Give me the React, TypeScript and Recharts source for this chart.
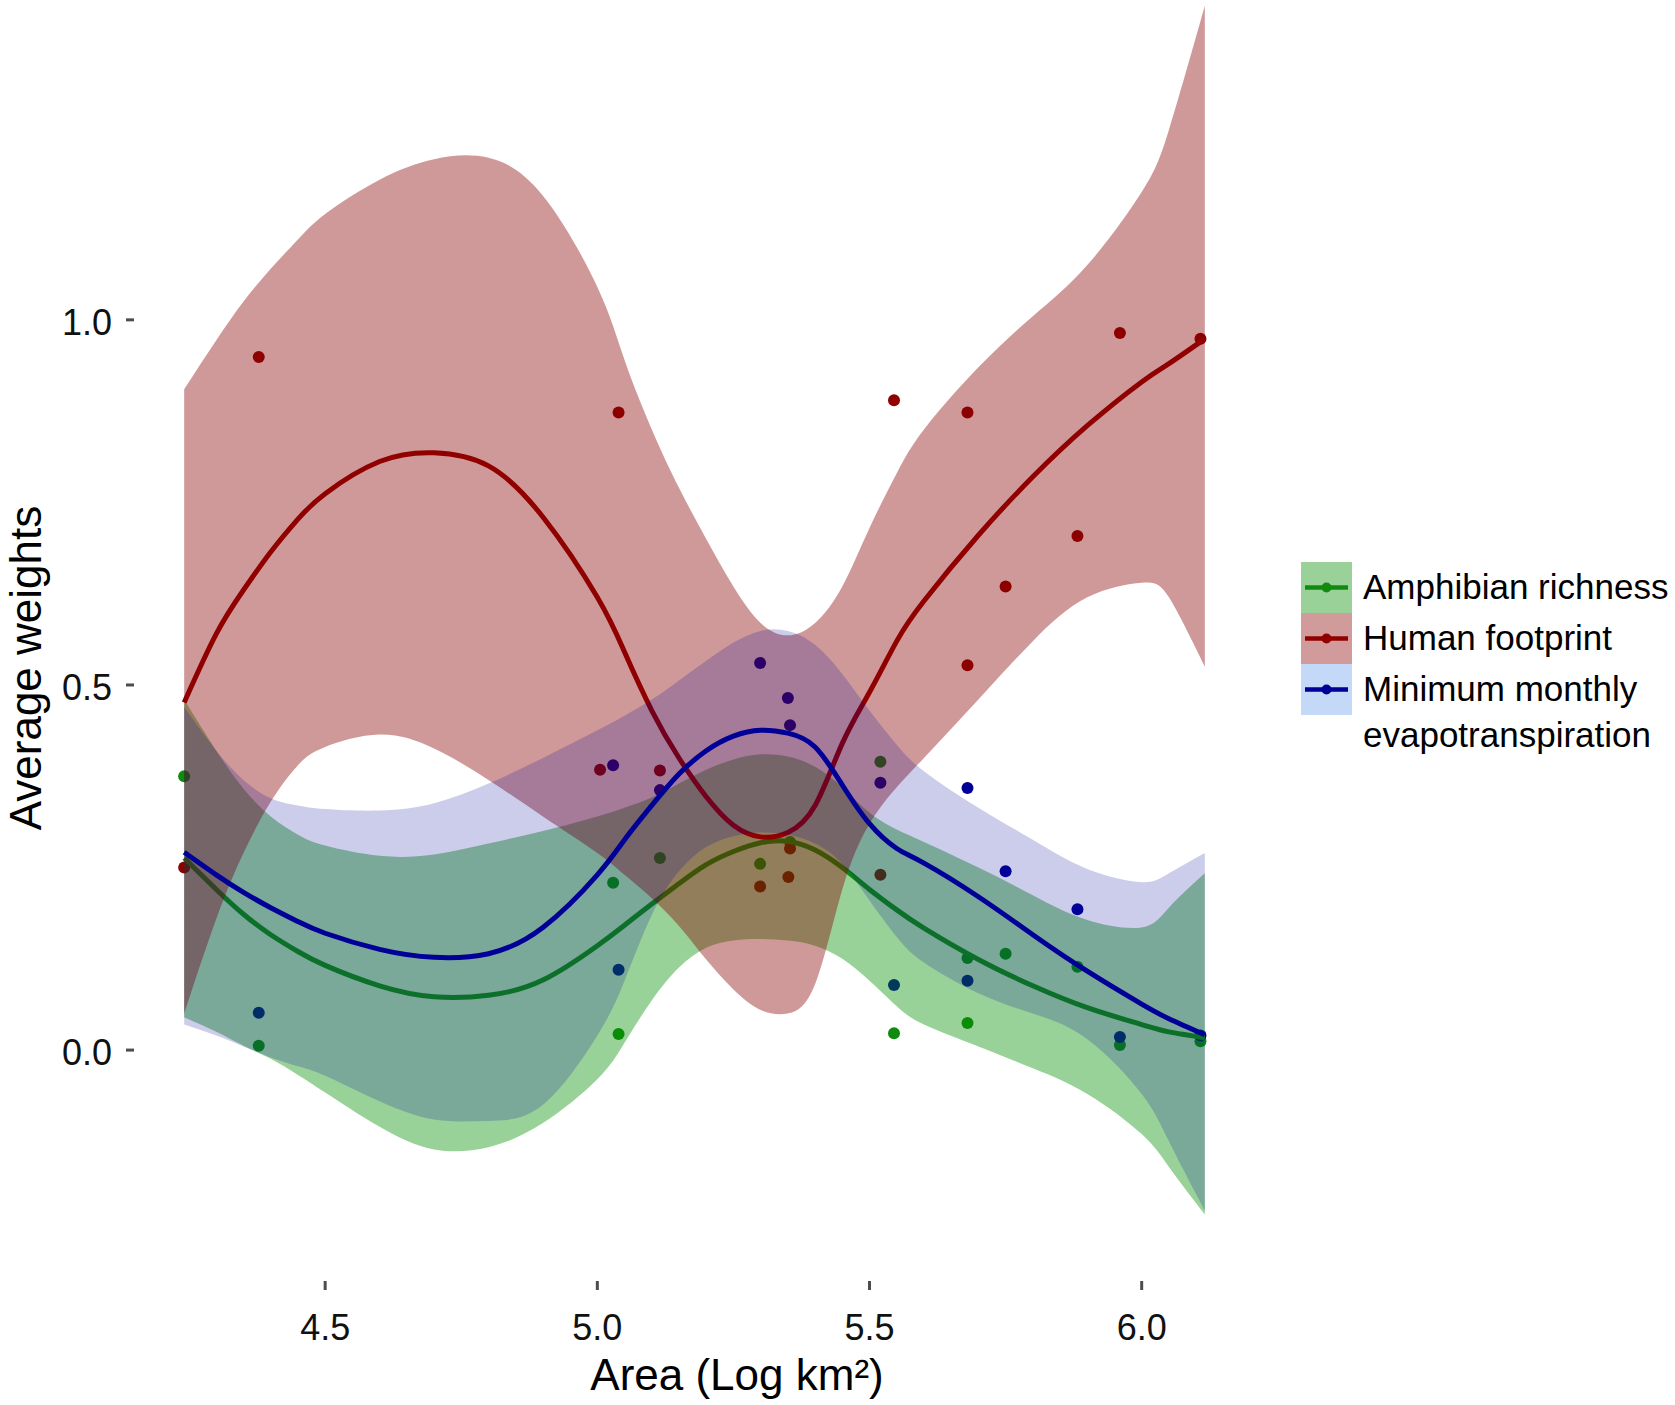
import React from 'react';
import { ComposedChart, Area, Line, Scatter, XAxis, YAxis } from 'recharts';

// ---------- data ----------
const GRID_X = [4.241, 4.3, 4.35, 4.4, 4.45, 4.5, 4.6, 4.7, 4.8, 4.9, 5.0, 5.05, 5.1, 5.15, 5.2, 5.25, 5.3, 5.35, 5.4, 5.45, 5.5, 5.55, 5.6, 5.7, 5.8, 5.9, 6.0, 6.05, 6.116];

// Amphibian richness (green)
const amphFit = [0.263, 0.22, 0.186, 0.158, 0.135, 0.116, 0.088, 0.073, 0.075, 0.096, 0.143, 0.171, 0.2, 0.228, 0.254, 0.272, 0.284, 0.286, 0.274, 0.25, 0.22, 0.192, 0.167, 0.124, 0.088, 0.058, 0.035, 0.025, 0.017];
const amphLow = [0.045, 0.025, 0.006, -0.012, -0.034, -0.058, -0.105, -0.136, -0.133, -0.1, -0.04, 0.01, 0.068, 0.113, 0.14, 0.15, 0.152, 0.15, 0.143, 0.125, 0.095, 0.06, 0.035, 0.005, -0.025, -0.06, -0.115, -0.16, -0.225];
const amphHigh = [0.48, 0.41, 0.358, 0.32, 0.295, 0.28, 0.266, 0.268, 0.283, 0.3, 0.32, 0.332, 0.346, 0.365, 0.384, 0.398, 0.405, 0.402, 0.388, 0.36, 0.325, 0.302, 0.285, 0.25, 0.212, 0.178, 0.168, 0.195, 0.242];

// Human footprint (red)
const humanFit = [0.476, 0.57, 0.63, 0.682, 0.727, 0.762, 0.806, 0.818, 0.8, 0.73, 0.62, 0.545, 0.465, 0.4, 0.347, 0.308, 0.292, 0.298, 0.335, 0.42, 0.49, 0.56, 0.615, 0.705, 0.785, 0.855, 0.915, 0.94, 0.974];
const humanLow = [0.05, 0.18, 0.27, 0.34, 0.39, 0.415, 0.432, 0.413, 0.37, 0.32, 0.27, 0.24, 0.208, 0.17, 0.124, 0.083, 0.055, 0.05, 0.09, 0.22, 0.31, 0.36, 0.4, 0.48, 0.56, 0.62, 0.64, 0.62, 0.525];
const humanHigh = [0.905, 0.972, 1.025, 1.07, 1.11, 1.145, 1.192, 1.22, 1.222, 1.17, 1.045, 0.945, 0.85, 0.77, 0.7, 0.635, 0.585, 0.568, 0.585, 0.635, 0.715, 0.79, 0.85, 0.935, 1.005, 1.075, 1.175, 1.26, 1.43];

// Minimum monthly evapotranspiration (blue)
const evapFit = [0.271, 0.24, 0.216, 0.195, 0.176, 0.16, 0.138, 0.127, 0.132, 0.168, 0.24, 0.288, 0.335, 0.378, 0.41, 0.43, 0.438, 0.434, 0.415, 0.363, 0.31, 0.276, 0.256, 0.21, 0.158, 0.108, 0.063, 0.043, 0.021];
const evapLow = [0.035, 0.02, 0.005, -0.01, -0.022, -0.035, -0.07, -0.095, -0.097, -0.075, 0.02, 0.095, 0.185, 0.245, 0.278, 0.293, 0.298, 0.295, 0.283, 0.255, 0.205, 0.155, 0.12, 0.078, 0.05, 0.015, -0.06, -0.125, -0.22];
const evapHigh = [0.47, 0.41, 0.37, 0.345, 0.335, 0.33, 0.328, 0.338, 0.365, 0.4, 0.438, 0.458, 0.48, 0.506, 0.533, 0.558, 0.574, 0.574, 0.555, 0.515, 0.465, 0.418, 0.382, 0.332, 0.288, 0.248, 0.23, 0.242, 0.27];

// observed points
const amphPoints = [
  { x: 4.241, y: 0.375 }, { x: 4.378, y: 0.006 }, { x: 5.029, y: 0.229 }, { x: 5.039, y: 0.022 },
  { x: 5.115, y: 0.263 }, { x: 5.299, y: 0.255 }, { x: 5.354, y: 0.285 }, { x: 5.52, y: 0.395 },
  { x: 5.545, y: 0.023 }, { x: 5.68, y: 0.126 }, { x: 5.68, y: 0.037 }, { x: 5.75, y: 0.132 },
  { x: 5.882, y: 0.114 }, { x: 5.96, y: 0.007 }, { x: 6.108, y: 0.012 },
];
const humanPoints = [
  { x: 4.241, y: 0.25 }, { x: 4.378, y: 0.949 }, { x: 5.005, y: 0.384 }, { x: 5.039, y: 0.873 },
  { x: 5.115, y: 0.383 }, { x: 5.299, y: 0.224 }, { x: 5.351, y: 0.237 }, { x: 5.354, y: 0.276 },
  { x: 5.52, y: 0.24 }, { x: 5.545, y: 0.89 }, { x: 5.68, y: 0.873 }, { x: 5.68, y: 0.527 },
  { x: 5.75, y: 0.635 }, { x: 5.882, y: 0.704 }, { x: 5.96, y: 0.982 }, { x: 6.108, y: 0.974 },
];
const evapPoints = [
  { x: 4.378, y: 0.051 }, { x: 5.029, y: 0.39 }, { x: 5.039, y: 0.11 }, { x: 5.115, y: 0.356 },
  { x: 5.299, y: 0.53 }, { x: 5.35, y: 0.482 }, { x: 5.354, y: 0.445 }, { x: 5.52, y: 0.366 },
  { x: 5.545, y: 0.089 }, { x: 5.68, y: 0.359 }, { x: 5.68, y: 0.095 }, { x: 5.75, y: 0.245 },
  { x: 5.882, y: 0.193 }, { x: 5.96, y: 0.018 }, { x: 6.108, y: 0.02 },
];

const X_TICKS = [4.5, 5.0, 5.5, 6.0];
const Y_TICKS = [0, 0.5, 1.0];
const SERIES_NAMES = ['Amphibian richness', 'Human footprint', 'Minimum monthly', 'evapotranspiration'];

// ---------- styles ----------
const FONT = "'Liberation Sans', Arial, Helvetica, sans-serif";
const GREEN = '#0f8c0f';
const RED = '#900000';
const BLUE = '#000098';
const GREEN_FILL = '#008e00';
const RED_FILL = '#890000';
const BLUE_FILL = '#00009b';
const CURVE = 'natural';

const table = GRID_X.map((x, i) => ({
  x,
  amphBand: [amphLow[i], amphHigh[i]],
  amphFit: amphFit[i],
  humanBand: [humanLow[i], humanHigh[i]],
  humanFit: humanFit[i],
  evapBand: [evapLow[i], evapHigh[i]],
  evapFit: evapFit[i],
}));

const XTick = (props: any) => {
  const { x, y, payload } = props;
  return (
    <g>
      <line x1={x} x2={x} y1={y + 6} y2={y + 15} stroke="#4d4d4d" strokeWidth={3} />
      <text x={x} y={y + 65} textAnchor="middle" fontSize={36} fill="#111" fontFamily={FONT}>
        {Number(payload.value).toFixed(1)}
      </text>
    </g>
  );
};

const YTick = (props: any) => {
  const { x, y, payload } = props;
  return (
    <g>
      <line x1={x - 7} x2={x + 1} y1={y} y2={y} stroke="#4d4d4d" strokeWidth={3} />
      <text x={x - 21} y={y + 15} textAnchor="end" fontSize={36} fill="#111" fontFamily={FONT}>
        {Number(payload.value).toFixed(1)}
      </text>
    </g>
  );
};

const dot = (color: string) => (props: any) => (
  <circle cx={props.cx} cy={props.cy} r={6} fill={color} />
);

const legendItems = [
  { label: [SERIES_NAMES[0]], color: GREEN, box: '#99d199' },
  { label: [SERIES_NAMES[1]], color: RED, box: '#d29b9b' },
  { label: [SERIES_NAMES[2], SERIES_NAMES[3]], color: BLUE, box: '#c4d8f8' },
];

export default function App() {
  return (
    <div style={{ position: 'absolute', left: 0, top: 0, width: 1675, height: 1405, background: '#fff' }}>
      <ComposedChart
        width={1675}
        height={1405}
        data={table}
        margin={{ top: 0, right: 419, bottom: 0, left: 0 }}
      >
        <XAxis
          type="number"
          dataKey="x"
          domain={[4.147, 6.21]}
          ticks={X_TICKS}
          interval={0}
          height={130}
          axisLine={false}
          tickLine={false}
          tickSize={0}
          tickMargin={0}
          tick={XTick}
          allowDataOverflow
        />
        <YAxis
          type="number"
          domain={[-0.308, 1.438]}
          ticks={Y_TICKS}
          interval={0}
          width={133}
          axisLine={false}
          tickLine={false}
          tickSize={0}
          tickMargin={0}
          tick={YTick}
          allowDataOverflow
        />
        <Scatter data={amphPoints} dataKey="y" shape={dot(GREEN)} isAnimationActive={false} zIndex={50} />
        <Scatter data={humanPoints} dataKey="y" shape={dot(RED)} isAnimationActive={false} zIndex={50} />
        <Scatter data={evapPoints} dataKey="y" shape={dot(BLUE)} isAnimationActive={false} zIndex={50} />

        <Area type={CURVE} dataKey="amphBand" stroke="none" fill={GREEN_FILL} fillOpacity={0.4} isAnimationActive={false} zIndex={100} />
        <Line type={CURVE} dataKey="amphFit" stroke={GREEN} strokeWidth={5} dot={false} activeDot={false} isAnimationActive={false} zIndex={110} />
        <Area type={CURVE} dataKey="humanBand" stroke="none" fill={RED_FILL} fillOpacity={0.4} isAnimationActive={false} zIndex={120} />
        <Line type={CURVE} dataKey="humanFit" stroke={RED} strokeWidth={5} dot={false} activeDot={false} isAnimationActive={false} zIndex={130} />
        <Area type={CURVE} dataKey="evapBand" stroke="none" fill={BLUE_FILL} fillOpacity={0.2} isAnimationActive={false} zIndex={140} />
        <Line type={CURVE} dataKey="evapFit" stroke={BLUE} strokeWidth={5} dot={false} activeDot={false} isAnimationActive={false} zIndex={150} />
      </ComposedChart>

      <svg
        width={1675}
        height={1405}
        style={{ position: 'absolute', left: 0, top: 0, pointerEvents: 'none' }}
        fontFamily={FONT}
      >
        <text x={737} y={1390} textAnchor="middle" fontSize={44} fill="#000">
          Area (Log km²)
        </text>
        <text transform="translate(41,668) rotate(-90)" textAnchor="middle" fontSize={44} fill="#000">
          Average weights
        </text>
        {legendItems.map((it, i) => {
          const top = 562 + i * 51;
          return (
            <g key={i}>
              <rect x={1301} y={top} width={51} height={51} fill={it.box} />
              <line x1={1305} x2={1348} y1={top + 25.5} y2={top + 25.5} stroke={it.color} strokeWidth={4.5} />
              <circle cx={1326.5} cy={top + 25.5} r={5} fill={it.color} />
              {it.label.map((t, j) => (
                <text key={j} x={1363} y={top + 37 + j * 46} fontSize={35} fill="#000">
                  {t}
                </text>
              ))}
            </g>
          );
        })}
      </svg>
    </div>
  );
}
